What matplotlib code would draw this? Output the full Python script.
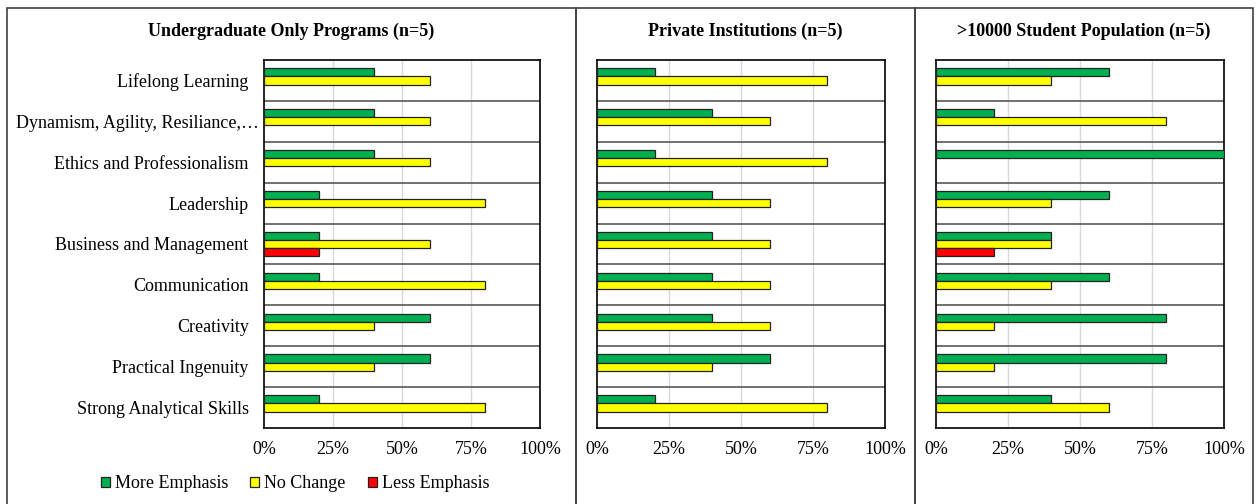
import numpy as np
import matplotlib
matplotlib.use("Agg")
import matplotlib.pyplot as plt
from matplotlib.patches import Patch, Rectangle
from matplotlib.transforms import ScaledTranslation

plt.rcParams['font.family'] = ['Liberation Serif', 'DejaVu Serif']

skills = ["Lifelong Learning", "Dynamism, Agility, Resiliance,\u2026",
          "Ethics and Professionalism", "Leadership", "Business and Management",
          "Communication", "Creativity", "Practical Ingenuity",
          "Strong Analytical Skills"]
series = ["More Emphasis", "No Change", "Less Emphasis"]
colors = ["#00B050", "#FFFF00", "#FF0000"]

titles = ["Undergraduate Only Programs (n=5)", "Private Institutions (n=5)",
          ">10000 Student Population (n=5)"]

undergrad_more = [40, 40, 40, 20, 20, 20, 60, 60, 20]
undergrad_same = [60, 60, 60, 80, 60, 80, 40, 40, 80]
undergrad_less = [0, 0, 0, 0, 20, 0, 0, 0, 0]

private_more = [20, 40, 20, 40, 40, 40, 40, 60, 20]
private_same = [80, 60, 80, 60, 60, 60, 60, 40, 80]
private_less = [0, 0, 0, 0, 0, 0, 0, 0, 0]

large_more = [60, 20, 100, 60, 40, 60, 80, 80, 40]
large_same = [40, 80, 0, 40, 40, 40, 20, 20, 60]
large_less = [0, 0, 0, 0, 20, 0, 0, 0, 0]

panels = [
    (undergrad_more, undergrad_same, undergrad_less),
    (private_more, private_same, private_less),
    (large_more, large_same, large_less),
]

W, H = 1256, 504
fig = plt.figure(figsize=(W / 100, H / 100), dpi=100)

# axes boxes in pixels: left, right
ax_x = [(264, 540), (597, 885), (936, 1224)]
ax_top, ax_bot = 60, 428
# panel frames in pixels
frames = [(7, 576), (576, 915), (915, 1253)]

y = np.arange(len(skills))
h = 0.2
for i, (vals, (x0, x1)) in enumerate(zip(panels, ax_x)):
    ax = fig.add_axes([x0 / W, 1 - ax_bot / H, (x1 - x0) / W, (ax_bot - ax_top) / H])
    for k, v in enumerate(vals):
        v = np.array(v) / 100
        ax.barh(y + (k - 1) * h, v, height=h, color=colors[k],
                edgecolor="#222222", linewidth=np.where(v > 0, 0.9, 0), zorder=3)
    ax.set_xlim(0, 1)
    ax.set_ylim(len(skills) - 0.5, -0.5)
    ax.set_xticks([0, 0.25, 0.5, 0.75, 1.0])
    ax.set_xticklabels(["0%", "25%", "50%", "75%", "100%"], fontsize=13)
    ax.tick_params(axis='x', length=0, pad=9)
    for gx in [0.25, 0.5, 0.75]:
        ax.axvline(gx, color="#d9d9d9", linewidth=1, zorder=1)
    for gy in np.arange(0.5, len(skills) - 0.5, 1):
        ax.axhline(gy, color="#595959", linewidth=1.2, zorder=2)
    ax.set_yticks(y)
    if i == 0:
        ax.set_yticklabels(skills, fontsize=13)
        ax.tick_params(axis='y', length=0, pad=11)
        # the truncated label runs up to the axis line
        lab = ax.get_yticklabels()[1]
        lab.set_transform(lab.get_transform() + ScaledTranslation(10 / 100, 0, fig.dpi_scale_trans))
    else:
        ax.set_yticklabels([])
        ax.tick_params(axis='y', length=0)
    for s in ax.spines.values():
        s.set_color("#000000")
        s.set_linewidth(1.2)
    fx0, fx1 = frames[i]
    fig.text((fx0 + fx1) / 2 / W, 1 - 31 / H, titles[i], ha="center", va="center",
             fontsize=13, fontweight="bold")

for fx0, fx1 in frames:
    fig.add_artist(Rectangle((fx0 / W, -0.01), (fx1 - fx0) / W, 1 - 8 / H + 0.01,
                             transform=fig.transFigure, fill=False,
                             edgecolor="#404040", linewidth=1.2))

handles = [Patch(facecolor=c, edgecolor="#222222", linewidth=0.9) for c in colors]
fig.legend(handles, series, loc="center", bbox_to_anchor=(295 / W, 1 - 484 / H),
           ncol=3, frameon=False, fontsize=13, handlelength=0.5, handleheight=0.5,
           handletextpad=0.3, columnspacing=1.2)

fig.savefig("out.png", dpi=100)
